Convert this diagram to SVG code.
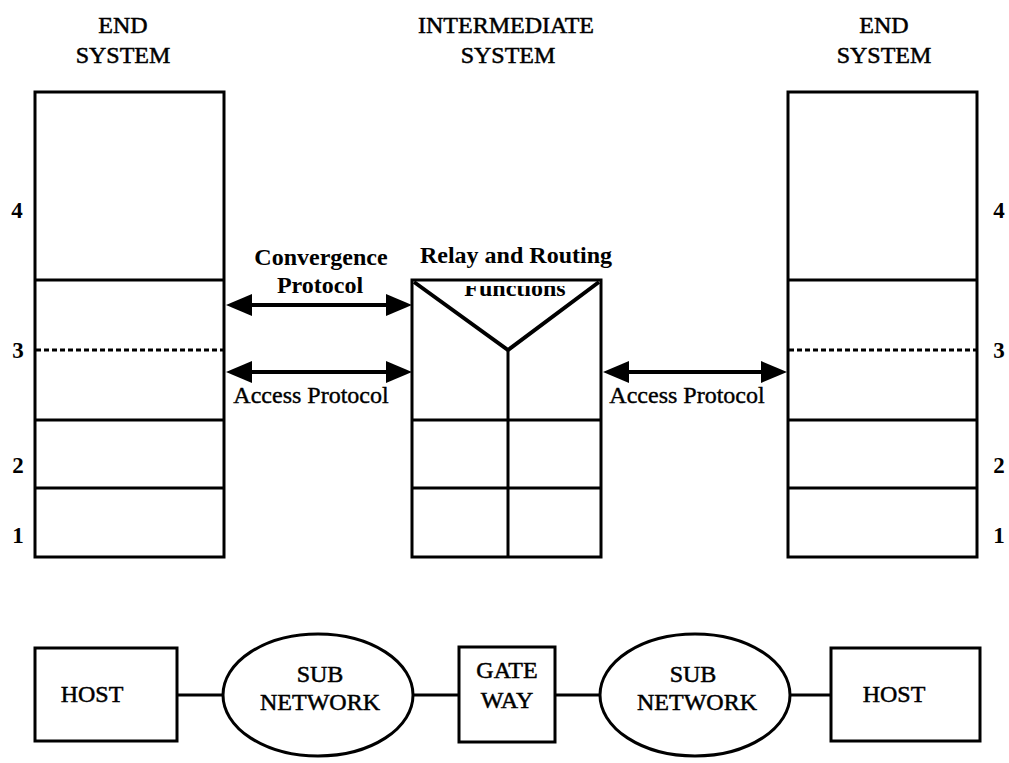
<svg xmlns="http://www.w3.org/2000/svg" xmlns:xlink="http://www.w3.org/1999/xlink" width="1009" height="763" viewBox="0 0 1009 763">
  <style>
    text { font-family: "Liberation Serif", "Times New Roman", serif; fill: #000; }
    .hdr { font-size: 24px; text-anchor: middle; stroke: #000; stroke-width: 0.5; }
    .lbl { font-size: 24px; font-weight: bold; text-anchor: middle; }
    .acc { font-size: 24px; text-anchor: middle; stroke: #000; stroke-width: 0.4; }
    .num { font-size: 23px; font-weight: bold; text-anchor: middle; }
    .box { fill: #fff; stroke: #000; stroke-width: 3; }
    .sep { fill: none; stroke: #000; stroke-width: 3; }
    .dash { fill: none; stroke: #000; stroke-width: 3; stroke-dasharray: 5 3; }
    .relay { fill: none; stroke: #000; stroke-width: 4; stroke-linejoin: miter; }
    .shaft { fill: none; stroke: #000; stroke-width: 4; }
    .wire { fill: none; stroke: #000; stroke-width: 3; }
    .head { fill: #000; }
  </style>
  <defs>
    <!-- filled arrowhead, tip at the origin, pointing right -->
    <path id="ah" d="M0,0 L-26,-11 L-26,11 Z"/>
    <clipPath id="fnclip">
      <rect x="440" y="286" width="150" height="30"/>
    </clipPath>
  </defs>
  <rect width="1009" height="763" fill="#fff"/>

  <!-- column headings -->
  <g id="headings">
    <text class="hdr" x="123" y="33">END</text>
    <text class="hdr" x="123" y="63">SYSTEM</text>
    <text class="hdr" x="506" y="33">INTERMEDIATE</text>
    <text class="hdr" x="508" y="63">SYSTEM</text>
    <text class="hdr" x="884" y="33">END</text>
    <text class="hdr" x="884" y="63">SYSTEM</text>
  </g>

  <!-- left end-system protocol stack -->
  <g id="end-system-left">
    <rect class="box" x="35" y="92" width="189" height="465"/>
    <line class="sep" x1="35" y1="280" x2="224" y2="280"/>
    <line class="dash" x1="36" y1="350" x2="223" y2="350"/>
    <line class="sep" x1="35" y1="420" x2="224" y2="420"/>
    <line class="sep" x1="35" y1="488" x2="224" y2="488"/>
    <text class="num" x="17" y="218">4</text>
    <text class="num" x="18" y="358">3</text>
    <text class="num" x="18" y="473">2</text>
    <text class="num" x="18" y="543">1</text>
  </g>

  <!-- intermediate system: relay and routing -->
  <g id="intermediate-system">
    <text class="lbl" x="516" y="263">Relay and Routing</text>
    <text class="lbl" x="515" y="296" clip-path="url(#fnclip)">Functions</text>
    <rect x="412" y="280" width="189" height="277" style="fill:none;stroke:#000;stroke-width:3"/>
    <polyline class="relay" points="414,282 508,350 599,282"/>
    <line class="sep" x1="508" y1="350" x2="508" y2="557"/>
    <line class="sep" x1="412" y1="420" x2="601" y2="420"/>
    <line class="sep" x1="412" y1="488" x2="601" y2="488"/>
  </g>

  <!-- right end-system protocol stack -->
  <g id="end-system-right">
    <rect class="box" x="788" y="92" width="189" height="465"/>
    <line class="sep" x1="788" y1="280" x2="977" y2="280"/>
    <line class="dash" x1="789" y1="350" x2="976" y2="350"/>
    <line class="sep" x1="788" y1="420" x2="977" y2="420"/>
    <line class="sep" x1="788" y1="488" x2="977" y2="488"/>
    <text class="num" x="999" y="218">4</text>
    <text class="num" x="999" y="358">3</text>
    <text class="num" x="999" y="473">2</text>
    <text class="num" x="999" y="543">1</text>
  </g>

  <!-- protocol arrows between the stacks -->
  <g id="connectors">
    <line class="shaft" x1="248" y1="305" x2="390" y2="305"/>
    <use xlink:href="#ah" class="head" transform="translate(412,305)"/>
    <use xlink:href="#ah" class="head" transform="translate(226,305) scale(-1,1)"/>

    <line class="shaft" x1="248" y1="372" x2="390" y2="372"/>
    <use xlink:href="#ah" class="head" transform="translate(412,372)"/>
    <use xlink:href="#ah" class="head" transform="translate(226,372) scale(-1,1)"/>

    <line class="shaft" x1="625" y1="372" x2="765" y2="372"/>
    <use xlink:href="#ah" class="head" transform="translate(787,372)"/>
    <use xlink:href="#ah" class="head" transform="translate(603,372) scale(-1,1)"/>

    <!-- links in the network row -->
    <line class="wire" x1="177" y1="695" x2="224" y2="695"/>
    <line class="wire" x1="412" y1="695" x2="460" y2="695"/>
    <line class="wire" x1="554" y1="695" x2="601" y2="695"/>
    <line class="wire" x1="789" y1="695" x2="831" y2="695"/>
  </g>

  <!-- arrow labels -->
  <g id="arrow-labels">
    <text class="lbl" x="321" y="265">Convergence</text>
    <text class="lbl" x="320" y="293">Protocol</text>
    <text class="acc" x="311" y="403">Access Protocol</text>
    <text class="acc" x="687" y="403">Access Protocol</text>
  </g>

  <!-- network row -->
  <g id="host-left">
    <rect class="box" x="35" y="648" width="142" height="93"/>
    <text class="hdr" x="92" y="702">HOST</text>
  </g>
  <g id="subnetwork-left">
    <ellipse class="box" cx="318" cy="695" rx="95" ry="61"/>
    <text class="hdr" x="320" y="682">SUB</text>
    <text class="hdr" x="320" y="710">NETWORK</text>
  </g>
  <g id="gateway">
    <rect class="box" x="459" y="647" width="96" height="95"/>
    <text class="hdr" x="507" y="678">GATE</text>
    <text class="hdr" x="507" y="708">WAY</text>
  </g>
  <g id="subnetwork-right">
    <ellipse class="box" cx="695" cy="695" rx="95" ry="61"/>
    <text class="hdr" x="693" y="682">SUB</text>
    <text class="hdr" x="697" y="710">NETWORK</text>
  </g>
  <g id="host-right">
    <rect class="box" x="831" y="648" width="149" height="93"/>
    <text class="hdr" x="894" y="702">HOST</text>
  </g>
</svg>
